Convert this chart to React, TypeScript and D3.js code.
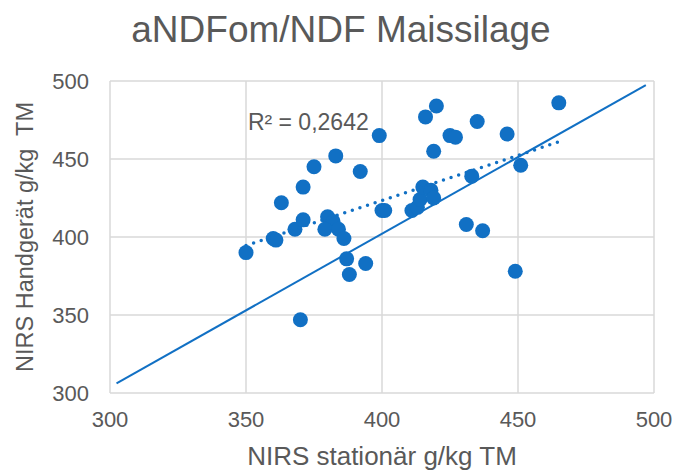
import React, { useRef, useEffect } from "react";
import * as d3 from "d3";

// values
const stationaer = [
  350, 360, 361, 363, 368, 371, 371, 375, 370, 380, 382, 379, 384, 386, 383,
  387, 388, 394, 392, 399, 400, 401, 411, 413, 414, 415, 418, 419, 419, 416,
  420, 425, 427, 433, 435, 431, 437, 446, 451, 449, 465,
];
const handgeraet = [
  390, 399, 398, 422, 405, 432, 411, 445, 347, 413, 410, 405, 405, 399, 452,
  386, 376, 383, 442, 465, 417, 417, 417, 419, 424, 432, 430, 425, 455, 477,
  484, 465, 464, 439, 474, 408, 404, 466, 446, 378, 486,
];
const refLineX = [302.4, 497];
const refLineY = [306.2, 497.4];
const xTicks = [300, 350, 400, 450, 500];
const yTicks = [300, 350, 400, 450, 500];
const r2Label = "R² = 0,2642";

const BLUE = "#1170C4";
const GREY = "#595959";
const GRID = "#D9D9D9";
const FONT = "'Liberation Sans', Arial, sans-serif";

const App = () => {
  const svgRef = useRef<SVGSVGElement>(null);

  useEffect(() => {
    const margin = { top: 81, right: 24, bottom: 80, left: 110 };
    const W = 678;
    const H = 473;
    const width = W - margin.left - margin.right;
    const height = H - margin.top - margin.bottom;

    const root = d3.select(svgRef.current);
    root.selectAll("*").remove();

    const x = d3.scaleLinear().domain([300, 500]).range([0, width]);
    const y = d3.scaleLinear().domain([300, 500]).range([height, 0]);

    const g = root
      .append("g")
      .attr("transform", `translate(${margin.left},${margin.top})`);

    // gridlines (also form the plot box)
    g.selectAll(".vgrid")
      .data(xTicks)
      .enter()
      .append("line")
      .attr("x1", (d) => x(d))
      .attr("x2", (d) => x(d))
      .attr("y1", 0)
      .attr("y2", height)
      .attr("stroke", GRID)
      .attr("stroke-width", 1.5);
    g.selectAll(".hgrid")
      .data(yTicks)
      .enter()
      .append("line")
      .attr("x1", 0)
      .attr("x2", width)
      .attr("y1", (d) => y(d))
      .attr("y2", (d) => y(d))
      .attr("stroke", GRID)
      .attr("stroke-width", 1.5);

    // tick labels
    g.selectAll(".xlab")
      .data(xTicks)
      .enter()
      .append("text")
      .attr("x", (d) => x(d))
      .attr("y", height + 34)
      .attr("text-anchor", "middle")
      .attr("font-family", FONT)
      .attr("font-size", 22)
      .attr("fill", GREY)
      .text((d) => d);
    g.selectAll(".ylab")
      .data(yTicks)
      .enter()
      .append("text")
      .attr("x", -21)
      .attr("y", (d) => y(d))
      .attr("dy", "0.35em")
      .attr("text-anchor", "end")
      .attr("font-family", FONT)
      .attr("font-size", 22)
      .attr("fill", GREY)
      .text((d) => d);

    // 1:1 reference line
    const line = d3
      .line<number>()
      .x((d) => x(d))
      .y((_, i) => y(refLineY[i]));
    g.append("path")
      .datum(refLineX)
      .attr("d", line)
      .attr("fill", "none")
      .attr("stroke", BLUE)
      .attr("stroke-width", 2);

    // linear trend line
    const pts = stationaer.map((v, i) => [v, handgeraet[i]] as [number, number]);
    const mx = d3.mean(pts, (p) => p[0])!;
    const my = d3.mean(pts, (p) => p[1])!;
    const sxy = d3.sum(pts, (p) => (p[0] - mx) * (p[1] - my));
    const sxx = d3.sum(pts, (p) => (p[0] - mx) ** 2);
    const slope = sxy / sxx;
    const icpt = my - slope * mx;
    const [xmin, xmax] = d3.extent(stationaer) as [number, number];

    g.selectAll(".dot")
      .data(pts)
      .enter()
      .append("circle")
      .attr("cx", (d) => x(d[0]))
      .attr("cy", (d) => y(d[1]))
      .attr("r", 7.5)
      .attr("fill", BLUE);

    g.append("line")
      .attr("x1", x(xmin))
      .attr("x2", x(xmax))
      .attr("y1", y(icpt + slope * xmin))
      .attr("y2", y(icpt + slope * xmax))
      .attr("stroke", BLUE)
      .attr("stroke-width", 3.5)
      .attr("stroke-linecap", "round")
      .attr("stroke-dasharray", "0 8");

    g.append("text")
      .attr("x", x(350.7))
      .attr("y", y(468.5))
      .attr("font-family", FONT)
      .attr("font-size", 23)
      .attr("fill", GREY)
      .text(r2Label);

    // titles
    root
      .append("text")
      .attr("x", 341)
      .attr("y", 42)
      .attr("text-anchor", "middle")
      .attr("font-family", FONT)
      .attr("font-size", 37)
      .attr("fill", GREY)
      .text("aNDFom/NDF Maissilage");

    root
      .append("text")
      .attr("x", margin.left + width / 2)
      .attr("y", 465)
      .attr("text-anchor", "middle")
      .attr("font-family", FONT)
      .attr("font-size", 26)
      .attr("fill", GREY)
      .text("NIRS stationär g/kg TM");

    root
      .append("text")
      .attr("transform", `translate(33,${margin.top + height / 2}) rotate(-90)`)
      .attr("text-anchor", "middle")
      .attr("font-family", FONT)
      .attr("font-size", 23.5)
      .attr("fill", GREY)
      .style("white-space", "pre")
      .text("NIRS Handgerät g/kg  TM");
  }, []);

  return (
    <svg
      ref={svgRef}
      width={678}
      height={473}
      style={{ position: "absolute", left: 0, top: 0, background: "#fff" }}
    />
  );
};

export default App;
